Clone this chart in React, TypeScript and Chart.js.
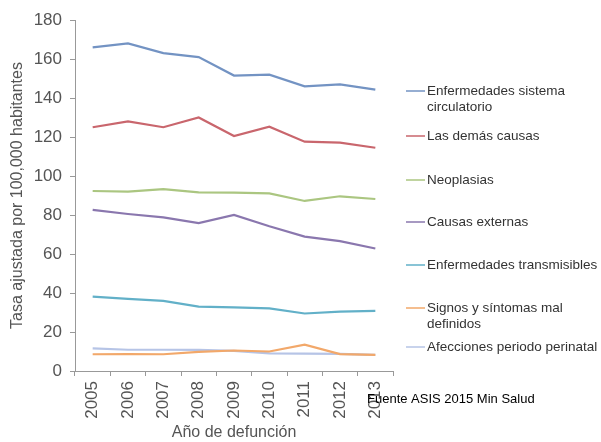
import React, { useEffect, useRef } from "react";
import { Chart, registerables } from "chart.js";

Chart.register(...registerables);

const years = ["2005", "2006", "2007", "2008", "2009", "2010", "2011", "2012", "2013"];

const circulatorio = [166, 168, 163, 161, 151.5, 152, 146, 147, 144.3];
const demasCausas = [125, 128, 125, 130, 120.5, 125.3, 117.6, 117.1, 114.5];
const neoplasias = [92.3, 92, 93.3, 91.6, 91.5, 91.1, 87.2, 89.6, 88.2];
const causasExternas = [82.6, 80.5, 78.8, 75.8, 80, 74.2, 68.9, 66.6, 62.8];
const transmisibles = [38.1, 37, 36, 33, 32.6, 32.1, 29.5, 30.4, 30.8];
const signosSintomas = [8.6, 8.7, 8.6, 9.8, 10.5, 10, 13.5, 8.7, 8.3];
const perinatal = [11.6, 10.9, 10.9, 10.8, 10.3, 9, 8.9, 8.8, 8.3];

const seriesNames = [
  "Enfermedades sistema circulatorio",
  "Las demás causas",
  "Neoplasias",
  "Causas externas",
  "Enfermedades transmisibles",
  "Signos y síntomas mal definidos",
  "Afecciones periodo perinatal",
];
const legendLines = [
  ["Enfermedades sistema", "circulatorio"],
  ["Las demás causas"],
  ["Neoplasias"],
  ["Causas externas"],
  ["Enfermedades transmisibles"],
  ["Signos y síntomas mal", "definidos"],
  ["Afecciones periodo perinatal"],
];
const seriesColors = ["#7393c3", "#c9666d", "#abc681", "#8a77ae", "#62b0c8", "#f2a86a", "#b6c4e6"];
const seriesValues = [circulatorio, demasCausas, neoplasias, causasExternas, transmisibles, signosSintomas, perinatal];

const yTitle = "Tasa ajustada por 100,000 habitantes";
const xTitle = "Año de defunción";
const sourceNote = "Fuente ASIS 2015 Min Salud";

const FONT = "'Liberation Sans', Arial, sans-serif";

const legendPlugin = {
  id: "customLegend",
  afterDraw(chart: any) {
    const ctx = chart.ctx;
    const ys = [91, 136, 180, 222, 265, 308, 347];
    ctx.save();
    ctx.font = `13.5px ${FONT}`;
    ctx.textBaseline = "middle";
    ctx.textAlign = "left";
    chart.data.datasets.forEach((ds: any, i: number) => {
      const y = ys[i];
      ctx.strokeStyle = ds.borderColor;
      ctx.lineWidth = 1.5;
      ctx.beginPath();
      ctx.moveTo(406, y);
      ctx.lineTo(425, y);
      ctx.stroke();
      ctx.fillStyle = "#333";
      legendLines[i].forEach((line, j) => {
        ctx.fillText(line, 427, y + j * 16);
      });
    });
    ctx.fillStyle = "#000";
    ctx.font = `13px ${FONT}`;
    ctx.fillText(sourceNote, 367, 399);
    ctx.restore();
  },
};

export default function App() {
  const ref = useRef<HTMLCanvasElement | null>(null);
  useEffect(() => {
    if (!ref.current) return;
    const chart = new Chart(ref.current, {
      type: "line",
      data: {
        labels: years,
        datasets: seriesNames.map((name, i) => ({
          label: name,
          data: seriesValues[i],
          borderColor: seriesColors[i],
          backgroundColor: seriesColors[i],
          borderWidth: 2.2,
          pointRadius: 0,
          tension: 0,
          fill: false,
        })),
      },
      options: {
        animation: false,
        responsive: true,
        maintainAspectRatio: false,
        layout: { padding: { left: 0, top: 20, right: 208, bottom: 0 } },
        plugins: {
          legend: { display: false },
          tooltip: { enabled: false },
        },
        scales: {
          x: {
            type: "category",
            offset: true,
            grid: {
              offset: true,
              drawOnChartArea: false,
              drawTicks: true,
              tickLength: 5,
              color: "#999",
            },
            border: { display: true, color: "#999", width: 1 },
            ticks: {
              color: "#555",
              font: { family: FONT, size: 17 },
              maxRotation: 90,
              minRotation: 90,
              padding: 5,
              autoSkip: false,
            },
            title: {
              display: true,
              text: xTitle,
              color: "#555",
              font: { family: FONT, size: 16 },
              padding: { top: 0, bottom: 0 },
            },
            afterFit: (s: any) => {
              s.height = 71;
            },
          },
          y: {
            min: 0,
            max: 180,
            ticks: {
              stepSize: 20,
              color: "#555",
              font: { family: FONT, size: 17 },
              padding: 8,
            },
            grid: {
              drawOnChartArea: false,
              drawTicks: true,
              tickLength: 5,
              color: "#999",
            },
            border: { display: true, color: "#999", width: 1 },
            title: {
              display: true,
              text: yTitle,
              color: "#555",
              font: { family: FONT, size: 16 },
              padding: { top: 8, bottom: 0 },
            },
            afterFit: (s: any) => {
              s.width = 75;
            },
          },
        },
      },
      plugins: [legendPlugin],
    });
    return () => chart.destroy();
  }, []);
  return (
    <div style={{ position: "fixed", left: 0, top: 0, width: 601, height: 442, background: "#fff" }}>
      <canvas ref={ref} />
    </div>
  );
}
